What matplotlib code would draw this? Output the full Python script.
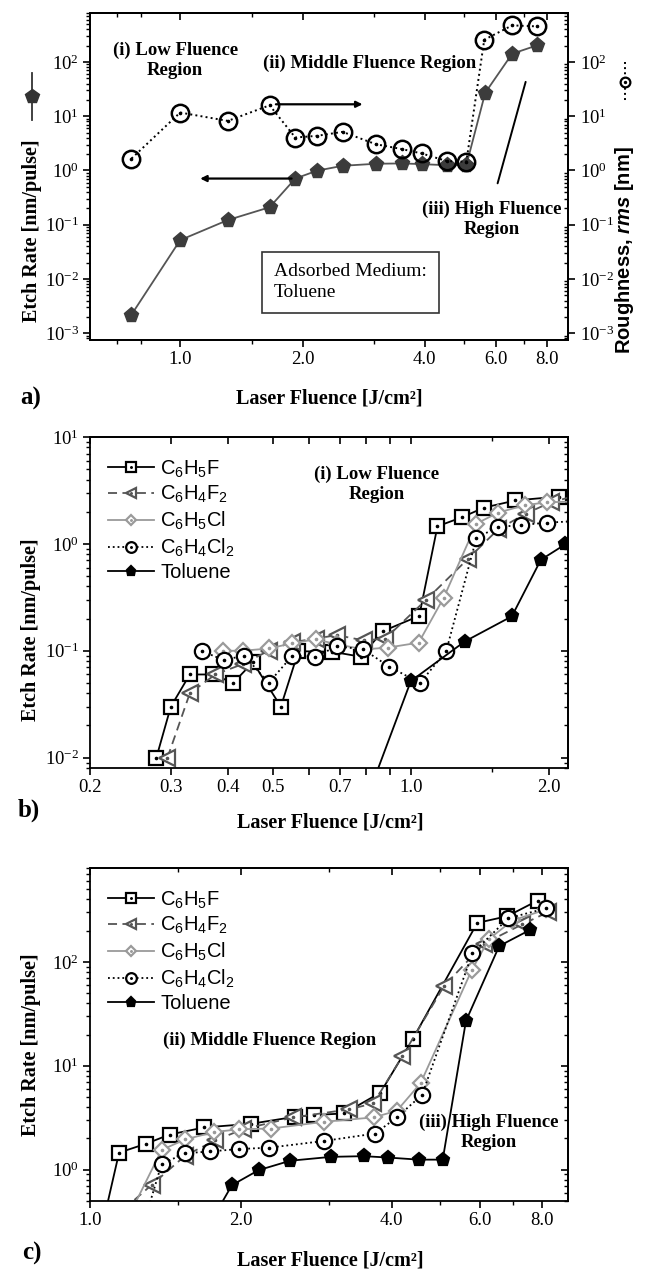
import numpy as np
import matplotlib
matplotlib.use('agg')
import matplotlib.pyplot as plt
from matplotlib.lines import Line2D
from matplotlib.ticker import FixedLocator, FixedFormatter, NullFormatter, LogLocator

# ---- data ----
# toluene etch rate (same series in all three panels)
tol_x = [0.759, 1.0, 1.31, 1.66, 1.92, 2.17, 2.51, 3.03, 3.52, 3.93, 4.53, 5.06, 5.63, 6.56, 7.56]
tol_y = [0.0022, 0.052, 0.122, 0.21, 0.71, 0.99, 1.22, 1.33, 1.35, 1.31, 1.25, 1.25, 27, 142, 203]

# roughness (panel a, right axis)
rough_x = [0.759, 1.0, 1.31, 1.66, 1.92, 2.17, 2.51, 3.03, 3.52, 3.93, 4.53, 5.06, 5.6, 6.56, 7.56]
rough_y = [1.66, 11.7, 8.2, 15.9, 4.05, 4.35, 5.15, 3.05, 2.47, 2.06, 1.49, 1.45, 257, 473, 453]

c6h5f_x = [0.279, 0.300, 0.330, 0.371, 0.410, 0.453, 0.521, 0.569, 0.673, 0.778, 0.868, 1.043,
           1.143, 1.295, 1.442, 1.69, 2.10, 2.565, 2.806, 3.216, 3.80, 4.41, 5.93, 6.81, 7.83]
c6h5f_y = [0.010, 0.030, 0.060, 0.060, 0.050, 0.078, 0.030, 0.099, 0.098, 0.088, 0.152, 0.212,
           1.46, 1.78, 2.18, 2.55, 2.77, 3.23, 3.36, 3.48, 5.52, 18.1, 237, 275, 389]

c6h4f2_x = [0.295, 0.33, 0.375, 0.43, 0.49, 0.55, 0.62, 0.69, 0.79, 0.88, 1.08, 1.33,
            1.55, 1.78, 2.02, 2.54, 3.29, 3.68, 4.2, 5.09, 6.12, 7.3, 8.2]
c6h4f2_y = [0.01, 0.04, 0.06, 0.075, 0.10, 0.12, 0.13, 0.14, 0.125, 0.13, 0.30, 0.72,
            1.37, 1.92, 2.45, 3.18, 3.81, 4.35, 12.3, 58.6, 150, 230, 300]

c6h5cl_x = [0.39, 0.43, 0.49, 0.55, 0.62, 0.69, 0.79, 0.89, 1.04, 1.18, 1.39, 1.55,
            1.77, 1.98, 2.30, 2.93, 3.69, 4.1, 4.57, 5.78, 6.26, 6.97, 8.15]
c6h5cl_y = [0.10, 0.10, 0.105, 0.117, 0.128, 0.115, 0.103, 0.107, 0.119, 0.315, 1.55, 1.96,
            2.3, 2.45, 2.49, 2.89, 3.19, 3.7, 6.8, 83, 166, 250, 320]

c6h4cl2_x = [0.351, 0.391, 0.434, 0.49, 0.552, 0.619, 0.69, 0.788, 0.897, 1.047, 1.194, 1.39,
             1.55, 1.74, 1.98, 2.28, 2.93, 3.71, 4.10, 4.60, 5.80, 6.84, 8.15]
c6h4cl2_y = [0.099, 0.082, 0.09, 0.05, 0.09, 0.088, 0.11, 0.103, 0.071, 0.05, 0.099, 1.14,
             1.44, 1.5, 1.58, 1.63, 1.89, 2.23, 3.2, 5.24, 121, 263, 328]

series_labels = ['C$_6$H$_5$F', 'C$_6$H$_4$F$_2$', 'C$_6$H$_5$Cl', 'C$_6$H$_4$Cl$_2$', 'Toluene']

xt_a = [1.0, 2.0, 4.0, 6.0, 8.0]
xt_a_lab = ['1.0', '2.0', '4.0', '6.0', '8.0']
xt_b = [0.2, 0.3, 0.4, 0.5, 0.6, 0.7, 0.8, 0.9, 1.0, 2.0]
xt_b_lab = ['0.2', '0.3', '0.4', '0.5', '', '0.7', '', '', '1.0', '2.0']
xt_c = [1.0, 2.0, 4.0, 6.0, 8.0]
xt_c_lab = ['1.0', '2.0', '4.0', '6.0', '8.0']

# ---- style ----
plt.rcParams['font.family'] = 'Liberation Serif'
plt.rcParams['mathtext.fontset'] = 'custom'
plt.rcParams['mathtext.rm'] = 'Liberation Sans'
plt.rcParams['mathtext.it'] = 'Liberation Sans:italic:bold'
plt.rcParams['mathtext.bf'] = 'Liberation Sans:bold'
plt.rcParams['axes.linewidth'] = 1.3
plt.rcParams['axes.unicode_minus'] = False

W, H = 649, 1270
fig = plt.figure(figsize=(W / 100, H / 100), dpi=100)
TICK_FS = 13.5


def px_axes(left, top, right, bottom):
    return fig.add_axes([left / W, 1 - bottom / H, (right - left) / W, (bottom - top) / H])


def setup(ax, xlim, ylim, xt, xlab, xminor, mirror_y=True):
    ax.set_xscale('log')
    ax.set_yscale('log')
    ax.set_xlim(*xlim)
    ax.set_ylim(*ylim)
    ax.xaxis.set_major_locator(FixedLocator(xt))
    ax.xaxis.set_major_formatter(FixedFormatter(xlab))
    ax.xaxis.set_minor_locator(FixedLocator(xminor))
    ax.xaxis.set_minor_formatter(NullFormatter())
    ax.yaxis.set_major_locator(LogLocator(base=10, numticks=12))
    ax.yaxis.set_minor_locator(LogLocator(base=10, subs=np.arange(2, 10), numticks=12))
    ax.yaxis.set_minor_formatter(NullFormatter())
    ax.tick_params(which='major', direction='out', length=5, width=1.2, labelsize=TICK_FS, pad=3)
    ax.tick_params(which='minor', direction='out', length=3, width=1)
    top = ax.secondary_xaxis('top')
    top.xaxis.set_major_locator(FixedLocator(xt))
    top.xaxis.set_minor_locator(FixedLocator(xminor))
    top.xaxis.set_major_formatter(NullFormatter())
    top.xaxis.set_minor_formatter(NullFormatter())
    top.tick_params(which='major', direction='in', length=5, width=1.2)
    top.tick_params(which='minor', direction='in', length=3, width=1)
    if mirror_y:
        rgt = ax.secondary_yaxis('right')
        rgt.yaxis.set_major_locator(LogLocator(base=10, numticks=12))
        rgt.yaxis.set_minor_locator(LogLocator(base=10, subs=np.arange(2, 10), numticks=12))
        rgt.yaxis.set_major_formatter(NullFormatter())
        rgt.yaxis.set_minor_formatter(NullFormatter())
        rgt.tick_params(which='major', direction='in', length=5, width=1.2)
        rgt.tick_params(which='minor', direction='in', length=3, width=1)


def draw(ax, x, y, marker, color, ls, ms, lc=None, filled=False, dot=True):
    ln, = ax.plot(x, y, ls=ls, color=lc or color, lw=1.3, marker=marker, ms=ms,
                  mfc=color if filled else 'white', mec=color, mew=1.6)
    if not dot:
        return ln
    d, = ax.plot(x, y, ls='none', marker='o', ms=1.6, color=color)
    return (ln, d)


def compounds(ax):
    h = [draw(ax, c6h5f_x, c6h5f_y, 's', 'black', '-', 10.5),
         draw(ax, c6h4f2_x, c6h4f2_y, '<', '#555555', (0, (5, 3)), 11),
         draw(ax, c6h5cl_x, c6h5cl_y, 'D', '#9a9a9a', '-', 8),
         draw(ax, c6h4cl2_x, c6h4cl2_y, 'o', 'black', ':', 11),
         draw(ax, tol_x, tol_y, 'p', 'black', '-', 9.5, filled=True, dot=False)]
    ax.legend(h, series_labels, loc='upper left', bbox_to_anchor=(0.0, 0.99), frameon=False,
              prop={'family': 'Liberation Sans', 'size': 14.5}, markerscale=0.7,
              handlelength=2.3, handletextpad=0.3, labelspacing=0.22, numpoints=1)


bold = dict(fontweight='bold', fontsize=14.5)
ann = dict(fontweight='bold', fontsize=13.5, ha='center', va='center', linespacing=1.25)

# ---- panel a ----
axa = px_axes(90, 13, 568, 340)
setup(axa, (0.6, 9.0), (7.5e-4, 800), xt_a, xt_a_lab, [0.7, 0.8, 1.5, 3.0, 5.0, 7.0], mirror_y=False)
axa.plot(tol_x, tol_y, ls='-', color='#555555', lw=1.3, marker='p', ms=11,
         mfc='#3c3c3c', mec='#3c3c3c', zorder=3)
axr = axa.twinx()
axr.set_yscale('log')
axr.set_ylim(7.5e-4, 800)
axr.yaxis.set_major_locator(LogLocator(base=10, numticks=12))
axr.yaxis.set_minor_locator(LogLocator(base=10, subs=np.arange(2, 10), numticks=12))
axr.yaxis.set_minor_formatter(NullFormatter())
axr.tick_params(which='major', direction='out', length=5, width=1.2, labelsize=TICK_FS)
axr.tick_params(which='minor', direction='in', length=3, width=1)
axr.plot(rough_x, rough_y, ls=':', color='black', lw=1.4, marker='o', ms=12.5,
         mfc='none', mec='black', mew=1.8)
axr.plot(rough_x, rough_y, ls='none', marker='o', ms=1.6, color='black')

axa.text(0.178, 0.855, '(i) Low Fluence\nRegion', transform=axa.transAxes, **ann)
axa.text(0.585, 0.847, '(ii) Middle Fluence Region', transform=axa.transAxes, **ann)
axa.text(0.84, 0.37, '(iii) High Fluence\nRegion', transform=axa.transAxes, **ann)
axa.text(0.385, 0.176, 'Adsorbed Medium:\nToluene', transform=axa.transAxes, fontsize=14,
         ha='left', va='center', linespacing=1.3,
         bbox=dict(boxstyle='square,pad=0.6', fc='white', ec='#333333', lw=1.2))
arrow = dict(arrowstyle='-|>', color='black', lw=1.6, mutation_scale=9, shrinkA=0, shrinkB=0)
axa.annotate('', xy=(2.81, 16.6), xytext=(1.72, 16.6), arrowprops=arrow)
axa.annotate('', xy=(1.12, 0.71), xytext=(1.88, 0.71), arrowprops=arrow)
axa.annotate('', xy=(7.08, 43), xytext=(6.04, 0.58),
             arrowprops=dict(arrowstyle='-', color='black', lw=1.4, shrinkA=0, shrinkB=0))

fig.text(32 / W, 1 - 231 / H, 'Etch Rate [nm/pulse]', rotation=90, ha='center', va='center', **bold)
fig.add_artist(Line2D([32 / W, 32 / W], [1 - 73 / H, 1 - 120 / H], color='#333333', lw=1.3))
fig.add_artist(Line2D([32 / W], [1 - 96 / H], marker='p', ms=10, color='#333333'))
fig.text(625 / W, 1 - 250 / H, 'Roughness, $\\mathit{rms}$ [nm]', rotation=90, ha='center',
         va='center', family='Liberation Sans', fontweight='bold', fontsize=14.5)
fig.add_artist(Line2D([625 / W, 625 / W], [1 - 62 / H, 1 - 102 / H], color='black', lw=1.4, ls=':'))
fig.add_artist(Line2D([625 / W], [1 - 82 / H], marker='o', ms=7, mfc='white', mec='black', mew=1.6))
fig.add_artist(Line2D([625 / W], [1 - 82 / H], marker='o', ms=1.4, color='black'))
fig.text(329 / W, 1 - 398 / H, 'Laser Fluence [J/cm²]', ha='center', va='center', **bold)
fig.text(20 / W, 1 - 398 / H, 'a)', ha='left', va='center', fontweight='bold', fontsize=18)

# ---- panel b ----
axb = px_axes(90, 437, 568, 768)
setup(axb, (0.2, 2.2), (0.008, 10), xt_b, xt_b_lab, [1.5])
compounds(axb)
axb.text(0.60, 0.858, '(i) Low Fluence\nRegion', transform=axb.transAxes, **ann)
fig.text(31 / W, 1 - 630 / H, 'Etch Rate [nm/pulse]', rotation=90, ha='center', va='center', **bold)
fig.text(330 / W, 1 - 822 / H, 'Laser Fluence [J/cm²]', ha='center', va='center', **bold)
fig.text(18 / W, 1 - 810 / H, 'b)', ha='left', va='center', fontweight='bold', fontsize=18)

# ---- panel c ----
axc = px_axes(90, 868, 568, 1201)
setup(axc, (1.0, 9.0), (0.5, 800), xt_c, xt_c_lab, [1.5, 3.0, 5.0, 7.0])
compounds(axc)
axc.text(0.375, 0.483, '(ii) Middle Fluence Region', transform=axc.transAxes, **ann)
axc.text(0.835, 0.207, '(iii) High Fluence\nRegion', transform=axc.transAxes, **ann)
fig.text(31 / W, 1 - 1045 / H, 'Etch Rate [nm/pulse]', rotation=90, ha='center', va='center', **bold)
fig.text(330 / W, 1 - 1261 / H, 'Laser Fluence [J/cm²]', ha='center', va='center', **bold)
fig.text(22 / W, 1 - 1253 / H, 'c)', ha='left', va='center', fontweight='bold', fontsize=18)

fig.savefig('out.png', dpi=100)
